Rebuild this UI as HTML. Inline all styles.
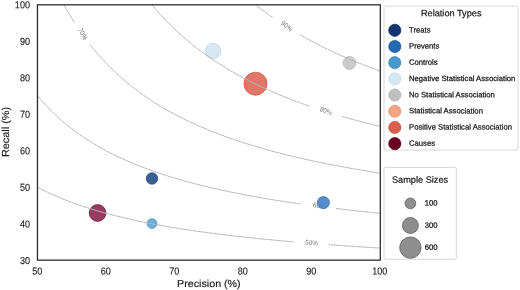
<!DOCTYPE html>
<html><head><meta charset="utf-8"><title>Precision-Recall</title>
<style>
html,body{margin:0;padding:0;background:#fff;}
body{width:520px;height:290px;overflow:hidden;font-family:"Liberation Sans",sans-serif;}
svg{display:block;will-change:transform;font-family:"Liberation Sans",sans-serif;}
.tk{font-size:10.1px;fill:#1a1a1a;stroke:#1a1a1a;stroke-width:0.12px;}
.ax{font-size:10.2px;fill:#1a1a1a;stroke:#1a1a1a;stroke-width:0.15px;}
.cl{font-size:6.9px;fill:#747474;text-anchor:middle;}
.lg{font-size:7.7px;fill:#1a1a1a;stroke:#1a1a1a;stroke-width:0.25px;}
.lt{font-size:9.2px;fill:#1a1a1a;stroke:#1a1a1a;stroke-width:0.22px;}
</style></head><body>
<svg width="520" height="290" viewBox="0 0 520 290">
<rect width="520" height="290" fill="#ffffff"/>
<clipPath id="pc"><rect x="37.5" y="4.6" width="342.5" height="255.6"/></clipPath>
<g clip-path="url(#pc)">
<text transform="translate(311.50 243.35) rotate(5.9) scale(0.92 1)" class="cl" dy="1.7">50%</text>
<text transform="translate(319.20 206.44) rotate(9.7) scale(0.92 1)" class="cl" dy="1.7">60%</text>
<text transform="translate(82.30 34.28) rotate(61.8) scale(0.92 1)" class="cl" dy="1.7">70%</text>
<text transform="translate(325.70 111.49) rotate(22.6) scale(0.92 1)" class="cl" dy="1.7">80%</text>
<text transform="translate(286.50 26.61) rotate(39.9) scale(0.92 1)" class="cl" dy="1.7">90%</text>
<circle cx="213.1" cy="51.0" r="7.8" fill="#d3e6f1" fill-opacity="0.9" stroke="#bcd3e3" stroke-width="0.7"/>
<circle cx="349.5" cy="63.0" r="6.5" fill="#c4c4c4" fill-opacity="0.9" stroke="#b6b6b6" stroke-width="0.7"/>
<circle cx="152.0" cy="178.5" r="5.75" fill="#29548c" fill-opacity="0.93" stroke="#1b3d70" stroke-width="0.7"/>
<circle cx="323.4" cy="202.6" r="6.1" fill="#4682c4" fill-opacity="0.92" stroke="#3a6ea8" stroke-width="0.7"/>
<circle cx="152.0" cy="223.6" r="4.95" fill="#5fa8d8" fill-opacity="0.92" stroke="#4a90c0" stroke-width="0.7"/>
<circle cx="97.6" cy="213.0" r="8.4" fill="#8e2a52" fill-opacity="0.92" stroke="#6e1937" stroke-width="0.7"/>
<circle cx="255.5" cy="83.7" r="11.55" fill="#dc6a5a" fill-opacity="0.92" stroke="#c4533f" stroke-width="0.7"/>
<path d="M37.50,187.17 L42.07,189.55 L46.65,191.80 L51.22,193.94 L55.80,195.98 L60.37,197.93 L64.95,199.78 L69.52,201.55 L74.09,203.24 L78.67,204.86 L83.24,206.41 L87.82,207.90 L92.39,209.33 L96.97,210.70 L101.54,212.02 L106.11,213.28 L110.69,214.50 L115.26,215.68 L119.84,216.81 L124.41,217.90 L128.99,218.96 L133.56,219.98 L138.13,220.96 L142.71,221.91 L147.28,222.83 L151.86,223.72 L156.43,224.59 L161.01,225.42 L165.58,226.23 L170.15,227.02 L174.73,227.78 L179.30,228.52 L183.88,229.24 L188.45,229.94 L193.03,230.62 L197.60,231.28 L202.17,231.92 L206.75,232.55 L211.32,233.15 L215.90,233.75 L220.47,234.32 L225.05,234.89 L229.62,235.44 L234.19,235.97 L238.77,236.49 L243.34,237.00 L247.92,237.50 L252.49,237.98 L257.07,238.46 L261.64,238.92 L266.21,239.37 L270.79,239.81 L275.36,240.25 L279.94,240.67 L284.51,241.08 L289.09,241.49 L293.66,241.88 L293.66,241.88" fill="none" stroke="#d6d6d6" stroke-width="0.75"/>
<path d="M37.50,187.17 L42.07,189.55 L46.65,191.80 L51.22,193.94 L55.80,195.98 L60.37,197.93 L64.95,199.78 L69.52,201.55 L74.09,203.24 L78.67,204.86 L83.24,206.41 L87.82,207.90 L92.39,209.33 L96.97,210.70 L101.54,212.02 L106.11,213.28 L110.69,214.50 L115.26,215.68 L119.84,216.81 L124.41,217.90 L128.99,218.96 L133.56,219.98 L138.13,220.96 L142.71,221.91 L147.28,222.83 L151.86,223.72 L156.43,224.59 L161.01,225.42 L165.58,226.23 L170.15,227.02 L174.73,227.78 L179.30,228.52 L183.88,229.24 L188.45,229.94 L193.03,230.62 L197.60,231.28 L202.17,231.92 L206.75,232.55 L211.32,233.15 L215.90,233.75 L220.47,234.32 L225.05,234.89 L229.62,235.44 L234.19,235.97 L238.77,236.49 L243.34,237.00 L247.92,237.50 L252.49,237.98 L257.07,238.46 L261.64,238.92 L266.21,239.37 L270.79,239.81 L275.36,240.25 L279.94,240.67 L284.51,241.08 L289.09,241.49 L293.66,241.88 L293.66,241.88" fill="none" stroke="#949494" stroke-width="0.75" stroke-dasharray="0.9 0.75"/>
<path d="M329.11,244.68 L333.69,245.01 L338.26,245.34 L342.83,245.66 L347.41,245.97 L351.98,246.27 L356.56,246.57 L361.13,246.87 L365.71,247.16 L370.28,247.44 L374.85,247.72 L379.43,247.99 L380.00,248.03" fill="none" stroke="#d6d6d6" stroke-width="0.75"/>
<path d="M329.11,244.68 L333.69,245.01 L338.26,245.34 L342.83,245.66 L347.41,245.97 L351.98,246.27 L356.56,246.57 L361.13,246.87 L365.71,247.16 L370.28,247.44 L374.85,247.72 L379.43,247.99 L380.00,248.03" fill="none" stroke="#949494" stroke-width="0.75" stroke-dasharray="0.9 0.75"/>
<path d="M37.50,95.89 L42.07,101.19 L46.65,106.17 L51.22,110.85 L55.80,115.25 L60.37,119.39 L64.95,123.31 L69.52,127.01 L74.09,130.52 L78.67,133.85 L83.24,137.02 L87.82,140.02 L92.39,142.89 L96.97,145.62 L101.54,148.23 L106.11,150.72 L110.69,153.10 L115.26,155.38 L119.84,157.57 L124.41,159.66 L128.99,161.68 L133.56,163.61 L138.13,165.47 L142.71,167.26 L147.28,168.98 L151.86,170.64 L156.43,172.24 L161.01,173.79 L165.58,175.28 L170.15,176.72 L174.73,178.11 L179.30,179.46 L183.88,180.76 L188.45,182.02 L193.03,183.25 L197.60,184.43 L202.17,185.58 L206.75,186.69 L211.32,187.78 L215.90,188.83 L220.47,189.85 L225.05,190.84 L229.62,191.80 L234.19,192.74 L238.77,193.65 L243.34,194.54 L247.92,195.40 L252.49,196.25 L257.07,197.07 L261.64,197.87 L266.21,198.65 L270.79,199.41 L275.36,200.15 L279.94,200.87 L284.51,201.58 L289.09,202.27 L293.66,202.94 L298.23,203.60 L300.52,203.93" fill="none" stroke="#d6d6d6" stroke-width="0.75"/>
<path d="M37.50,95.89 L42.07,101.19 L46.65,106.17 L51.22,110.85 L55.80,115.25 L60.37,119.39 L64.95,123.31 L69.52,127.01 L74.09,130.52 L78.67,133.85 L83.24,137.02 L87.82,140.02 L92.39,142.89 L96.97,145.62 L101.54,148.23 L106.11,150.72 L110.69,153.10 L115.26,155.38 L119.84,157.57 L124.41,159.66 L128.99,161.68 L133.56,163.61 L138.13,165.47 L142.71,167.26 L147.28,168.98 L151.86,170.64 L156.43,172.24 L161.01,173.79 L165.58,175.28 L170.15,176.72 L174.73,178.11 L179.30,179.46 L183.88,180.76 L188.45,182.02 L193.03,183.25 L197.60,184.43 L202.17,185.58 L206.75,186.69 L211.32,187.78 L215.90,188.83 L220.47,189.85 L225.05,190.84 L229.62,191.80 L234.19,192.74 L238.77,193.65 L243.34,194.54 L247.92,195.40 L252.49,196.25 L257.07,197.07 L261.64,197.87 L266.21,198.65 L270.79,199.41 L275.36,200.15 L279.94,200.87 L284.51,201.58 L289.09,202.27 L293.66,202.94 L298.23,203.60 L300.52,203.93" fill="none" stroke="#949494" stroke-width="0.75" stroke-dasharray="0.9 0.75"/>
<path d="M335.97,208.51 L340.55,209.04 L345.12,209.57 L349.70,210.09 L354.27,210.59 L358.84,211.09 L363.42,211.57 L367.99,212.05 L372.57,212.51 L377.14,212.97 L380.00,213.25" fill="none" stroke="#d6d6d6" stroke-width="0.75"/>
<path d="M335.97,208.51 L340.55,209.04 L345.12,209.57 L349.70,210.09 L354.27,210.59 L358.84,211.09 L363.42,211.57 L367.99,212.05 L372.57,212.51 L377.14,212.97 L380.00,213.25" fill="none" stroke="#949494" stroke-width="0.75" stroke-dasharray="0.9 0.75"/>
<path d="M63.85,4.60 L68.07,12.12 L72.29,19.17 L74.40,22.54" fill="none" stroke="#d6d6d6" stroke-width="0.75"/>
<path d="M63.85,4.60 L68.07,12.12 L72.29,19.17 L74.40,22.54" fill="none" stroke="#949494" stroke-width="0.75" stroke-dasharray="0.9 0.75"/>
<path d="M90.24,44.88 L94.46,50.09 L98.68,55.03 L102.90,59.73 L107.13,64.19 L111.35,68.44 L115.57,72.49 L119.79,76.36 L124.02,80.05 L128.24,83.59 L132.46,86.97 L136.68,90.21 L140.91,93.32 L145.13,96.30 L149.35,99.17 L153.57,101.92 L157.80,104.57 L162.02,107.12 L166.24,109.58 L170.46,111.95 L174.68,114.24 L178.91,116.45 L183.13,118.58 L187.35,120.65 L191.57,122.64 L195.80,124.57 L200.02,126.44 L204.24,128.25 L208.46,130.00 L212.69,131.70 L216.91,133.35 L221.13,134.95 L225.35,136.51 L229.58,138.02 L233.80,139.48 L238.02,140.91 L242.24,142.30 L246.47,143.65 L250.69,144.96 L254.91,146.24 L259.13,147.49 L263.36,148.70 L267.58,149.88 L271.80,151.04 L276.02,152.16 L280.25,153.26 L284.47,154.33 L288.69,155.37 L292.91,156.39 L297.13,157.39 L301.36,158.37 L305.58,159.32 L309.80,160.25 L314.02,161.16 L318.25,162.05 L322.47,162.92 L326.69,163.77 L330.91,164.60 L335.14,165.42 L339.36,166.22 L343.58,167.00 L347.80,167.76 L352.03,168.51 L356.25,169.25 L360.47,169.97 L364.69,170.68 L368.92,171.37 L373.14,172.05 L377.36,172.72 L380.00,173.13" fill="none" stroke="#d6d6d6" stroke-width="0.75"/>
<path d="M90.24,44.88 L94.46,50.09 L98.68,55.03 L102.90,59.73 L107.13,64.19 L111.35,68.44 L115.57,72.49 L119.79,76.36 L124.02,80.05 L128.24,83.59 L132.46,86.97 L136.68,90.21 L140.91,93.32 L145.13,96.30 L149.35,99.17 L153.57,101.92 L157.80,104.57 L162.02,107.12 L166.24,109.58 L170.46,111.95 L174.68,114.24 L178.91,116.45 L183.13,118.58 L187.35,120.65 L191.57,122.64 L195.80,124.57 L200.02,126.44 L204.24,128.25 L208.46,130.00 L212.69,131.70 L216.91,133.35 L221.13,134.95 L225.35,136.51 L229.58,138.02 L233.80,139.48 L238.02,140.91 L242.24,142.30 L246.47,143.65 L250.69,144.96 L254.91,146.24 L259.13,147.49 L263.36,148.70 L267.58,149.88 L271.80,151.04 L276.02,152.16 L280.25,153.26 L284.47,154.33 L288.69,155.37 L292.91,156.39 L297.13,157.39 L301.36,158.37 L305.58,159.32 L309.80,160.25 L314.02,161.16 L318.25,162.05 L322.47,162.92 L326.69,163.77 L330.91,164.60 L335.14,165.42 L339.36,166.22 L343.58,167.00 L347.80,167.76 L352.03,168.51 L356.25,169.25 L360.47,169.97 L364.69,170.68 L368.92,171.37 L373.14,172.05 L377.36,172.72 L380.00,173.13" fill="none" stroke="#949494" stroke-width="0.75" stroke-dasharray="0.9 0.75"/>
<path d="M151.67,4.60 L154.72,8.20 L157.77,11.68 L160.82,15.05 L163.86,18.31 L166.91,21.48 L169.96,24.55 L173.01,27.52 L176.06,30.41 L179.11,33.22 L182.16,35.94 L185.21,38.59 L188.26,41.17 L191.31,43.67 L194.36,46.10 L197.41,48.48 L200.46,50.78 L203.51,53.03 L206.56,55.22 L209.61,57.36 L212.66,59.44 L215.71,61.47 L218.76,63.45 L221.81,65.38 L224.86,67.27 L227.90,69.11 L230.95,70.91 L234.00,72.67 L237.05,74.39 L240.10,76.07 L243.15,77.71 L246.20,79.32 L249.25,80.89 L252.30,82.42 L255.35,83.93 L258.40,85.40 L261.45,86.84 L264.50,88.26 L267.55,89.64 L270.60,90.99 L273.65,92.32 L276.70,93.62 L279.75,94.90 L282.80,96.15 L285.85,97.38 L288.90,98.58 L291.94,99.76 L294.99,100.92 L298.04,102.06 L301.09,103.18 L304.14,104.28 L307.19,105.35 L309.10,106.01" fill="none" stroke="#d6d6d6" stroke-width="0.75"/>
<path d="M151.67,4.60 L154.72,8.20 L157.77,11.68 L160.82,15.05 L163.86,18.31 L166.91,21.48 L169.96,24.55 L173.01,27.52 L176.06,30.41 L179.11,33.22 L182.16,35.94 L185.21,38.59 L188.26,41.17 L191.31,43.67 L194.36,46.10 L197.41,48.48 L200.46,50.78 L203.51,53.03 L206.56,55.22 L209.61,57.36 L212.66,59.44 L215.71,61.47 L218.76,63.45 L221.81,65.38 L224.86,67.27 L227.90,69.11 L230.95,70.91 L234.00,72.67 L237.05,74.39 L240.10,76.07 L243.15,77.71 L246.20,79.32 L249.25,80.89 L252.30,82.42 L255.35,83.93 L258.40,85.40 L261.45,86.84 L264.50,88.26 L267.55,89.64 L270.60,90.99 L273.65,92.32 L276.70,93.62 L279.75,94.90 L282.80,96.15 L285.85,97.38 L288.90,98.58 L291.94,99.76 L294.99,100.92 L298.04,102.06 L301.09,103.18 L304.14,104.28 L307.19,105.35 L309.10,106.01" fill="none" stroke="#949494" stroke-width="0.75" stroke-dasharray="0.9 0.75"/>
<path d="M341.88,116.36 L344.93,117.23 L347.98,118.09 L351.03,118.93 L354.08,119.76 L357.13,120.58 L360.18,121.38 L363.23,122.17 L366.28,122.95 L369.33,123.72 L372.38,124.47 L375.43,125.22 L378.48,125.95 L380.00,126.31" fill="none" stroke="#d6d6d6" stroke-width="0.75"/>
<path d="M341.88,116.36 L344.93,117.23 L347.98,118.09 L351.03,118.93 L354.08,119.76 L357.13,120.58 L360.18,121.38 L363.23,122.17 L366.28,122.95 L369.33,123.72 L372.38,124.47 L375.43,125.22 L378.48,125.95 L380.00,126.31" fill="none" stroke="#949494" stroke-width="0.75" stroke-dasharray="0.9 0.75"/>
<path d="M255.45,4.60 L257.12,5.92 L258.78,7.21 L260.44,8.50 L262.11,9.76 L263.77,11.01 L265.43,12.24 L267.10,13.46 L268.76,14.67 L270.42,15.85 L272.09,17.03 L272.92,17.61" fill="none" stroke="#d6d6d6" stroke-width="0.75"/>
<path d="M255.45,4.60 L257.12,5.92 L258.78,7.21 L260.44,8.50 L262.11,9.76 L263.77,11.01 L265.43,12.24 L267.10,13.46 L268.76,14.67 L270.42,15.85 L272.09,17.03 L272.92,17.61" fill="none" stroke="#949494" stroke-width="0.75" stroke-dasharray="0.9 0.75"/>
<path d="M300.16,34.84 L301.82,35.79 L303.48,36.73 L305.15,37.66 L306.81,38.58 L308.47,39.49 L310.14,40.39 L311.80,41.27 L313.46,42.16 L315.13,43.03 L316.79,43.89 L318.46,44.74 L320.12,45.58 L321.78,46.42 L323.45,47.24 L325.11,48.06 L326.77,48.87 L328.44,49.67 L330.10,50.46 L331.76,51.25 L333.43,52.03 L335.09,52.79 L336.75,53.56 L338.42,54.31 L340.08,55.06 L341.74,55.79 L343.41,56.53 L345.07,57.25 L346.73,57.97 L348.40,58.68 L350.06,59.38 L351.72,60.08 L353.39,60.77 L355.05,61.45 L356.71,62.13 L358.38,62.80 L360.04,63.47 L361.70,64.13 L363.37,64.78 L365.03,65.43 L366.69,66.07 L368.36,66.70 L370.02,67.33 L371.68,67.95 L373.35,68.57 L375.01,69.19 L376.67,69.79 L378.34,70.39 L380.00,70.99 L380.00,70.99" fill="none" stroke="#d6d6d6" stroke-width="0.75"/>
<path d="M300.16,34.84 L301.82,35.79 L303.48,36.73 L305.15,37.66 L306.81,38.58 L308.47,39.49 L310.14,40.39 L311.80,41.27 L313.46,42.16 L315.13,43.03 L316.79,43.89 L318.46,44.74 L320.12,45.58 L321.78,46.42 L323.45,47.24 L325.11,48.06 L326.77,48.87 L328.44,49.67 L330.10,50.46 L331.76,51.25 L333.43,52.03 L335.09,52.79 L336.75,53.56 L338.42,54.31 L340.08,55.06 L341.74,55.79 L343.41,56.53 L345.07,57.25 L346.73,57.97 L348.40,58.68 L350.06,59.38 L351.72,60.08 L353.39,60.77 L355.05,61.45 L356.71,62.13 L358.38,62.80 L360.04,63.47 L361.70,64.13 L363.37,64.78 L365.03,65.43 L366.69,66.07 L368.36,66.70 L370.02,67.33 L371.68,67.95 L373.35,68.57 L375.01,69.19 L376.67,69.79 L378.34,70.39 L380.00,70.99 L380.00,70.99" fill="none" stroke="#949494" stroke-width="0.75" stroke-dasharray="0.9 0.75"/>
</g>
<rect x="37.45" y="4.8" width="342.85" height="255.35" fill="none" stroke="#262626" stroke-width="1.25"/>
<text transform="translate(30.00 263.90) scale(0.9 1) rotate(0.03)" text-anchor="end" class="tk">30</text>
<text transform="translate(30.00 227.39) scale(0.9 1) rotate(0.03)" text-anchor="end" class="tk">40</text>
<text transform="translate(30.00 190.87) scale(0.9 1) rotate(0.03)" text-anchor="end" class="tk">50</text>
<text transform="translate(30.00 154.36) scale(0.9 1) rotate(0.03)" text-anchor="end" class="tk">60</text>
<text transform="translate(30.00 117.84) scale(0.9 1) rotate(0.03)" text-anchor="end" class="tk">70</text>
<text transform="translate(30.00 81.33) scale(0.9 1) rotate(0.03)" text-anchor="end" class="tk">80</text>
<text transform="translate(30.00 44.81) scale(0.9 1) rotate(0.03)" text-anchor="end" class="tk">90</text>
<text transform="translate(30.00 8.30) scale(0.9 1) rotate(0.03)" text-anchor="end" class="tk">100</text>
<text transform="translate(37.25 274.50) scale(0.9 1) rotate(0.03)" text-anchor="middle" class="tk">50</text>
<text transform="translate(105.75 274.50) scale(0.9 1) rotate(0.03)" text-anchor="middle" class="tk">60</text>
<text transform="translate(174.25 274.50) scale(0.9 1) rotate(0.03)" text-anchor="middle" class="tk">70</text>
<text transform="translate(242.75 274.50) scale(0.9 1) rotate(0.03)" text-anchor="middle" class="tk">80</text>
<text transform="translate(311.25 274.50) scale(0.9 1) rotate(0.03)" text-anchor="middle" class="tk">90</text>
<text transform="translate(379.75 274.50) scale(0.9 1) rotate(0.03)" text-anchor="middle" class="tk">100</text>
<text transform="translate(208.90 287.00) scale(1.05 1) rotate(0.03)" text-anchor="middle" class="ax">Precision (%)</text>
<text transform="translate(9.0 132.0) rotate(-90.03) scale(1.07 1)" text-anchor="middle" class="ax">Recall (%)</text>
<rect x="384" y="6.1" width="134" height="144.0" rx="1.5" fill="#ffffff" stroke="#d4d4d4" stroke-width="0.9"/>
<text transform="translate(451.20 16.20) scale(1.0 1) rotate(0.03)" text-anchor="middle" class="lt">Relation Types</text>
<circle cx="394.8" cy="30.30" r="6.1" fill="#0e3571" stroke="#08285a" stroke-width="0.7"/>
<text transform="translate(409.00 32.40) scale(1.0 1) rotate(0.03)" text-anchor="start" class="lg">Treats</text>
<circle cx="394.8" cy="46.49" r="6.1" fill="#2268b2" stroke="#1a569c" stroke-width="0.7"/>
<text transform="translate(409.00 48.59) scale(1.0 1) rotate(0.03)" text-anchor="start" class="lg">Prevents</text>
<circle cx="394.8" cy="62.68" r="6.1" fill="#4698cd" stroke="#3a86bb" stroke-width="0.7"/>
<text transform="translate(409.00 64.78) scale(1.0 1) rotate(0.03)" text-anchor="start" class="lg">Controls</text>
<circle cx="394.8" cy="78.87" r="6.1" fill="#d3e6f2" stroke="#c0d6e5" stroke-width="0.7"/>
<text transform="translate(409.00 80.97) scale(1.0 1) rotate(0.03)" text-anchor="start" class="lg">Negative Statistical Association</text>
<circle cx="394.8" cy="95.06" r="6.1" fill="#c0c0c0" stroke="#adadad" stroke-width="0.7"/>
<text transform="translate(409.00 97.16) scale(1.0 1) rotate(0.03)" text-anchor="start" class="lg">No Statistical Association</text>
<circle cx="394.8" cy="111.25" r="6.1" fill="#f5a482" stroke="#e39070" stroke-width="0.7"/>
<text transform="translate(409.00 113.35) scale(1.0 1) rotate(0.03)" text-anchor="start" class="lg">Statistical Association</text>
<circle cx="394.8" cy="127.44" r="6.1" fill="#d9604c" stroke="#c3503d" stroke-width="0.7"/>
<text transform="translate(409.00 129.54) scale(1.0 1) rotate(0.03)" text-anchor="start" class="lg">Positive Statistical Association</text>
<circle cx="394.8" cy="143.63" r="6.1" fill="#6a0020" stroke="#560018" stroke-width="0.7"/>
<text transform="translate(409.00 145.73) scale(1.0 1) rotate(0.03)" text-anchor="start" class="lg">Causes</text>
<rect x="384" y="167.5" width="72.4" height="91.7" rx="1.5" fill="#ffffff" stroke="#d4d4d4" stroke-width="0.9"/>
<text transform="translate(420.00 182.70) scale(1.0 1) rotate(0.03)" text-anchor="middle" class="lt">Sample Sizes</text>
<circle cx="410.4" cy="203.4" r="5.4" fill="#8e8e8e" stroke="#636363" stroke-width="0.8"/>
<circle cx="410.4" cy="225.5" r="8.0" fill="#8e8e8e" stroke="#636363" stroke-width="0.8"/>
<circle cx="410.4" cy="247.6" r="10.7" fill="#8e8e8e" stroke="#636363" stroke-width="0.8"/>
<text transform="translate(424.80 205.60) scale(1.0 1) rotate(0.03)" text-anchor="start" class="lg">100</text>
<text transform="translate(424.80 227.70) scale(1.0 1) rotate(0.03)" text-anchor="start" class="lg">300</text>
<text transform="translate(424.80 249.80) scale(1.0 1) rotate(0.03)" text-anchor="start" class="lg">600</text>
</svg>
</body></html>
